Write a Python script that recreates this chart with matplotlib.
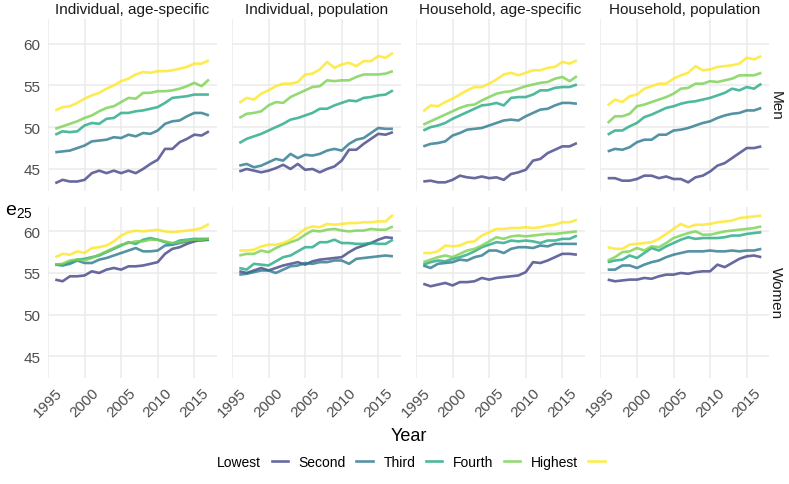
import matplotlib
matplotlib.use("Agg")
import matplotlib.pyplot as plt
from matplotlib.lines import Line2D
import numpy as np

plt.rcParams['font.family'] = ['Liberation Sans', 'DejaVu Sans']

years = list(range(1996, 2018))
groups = ['Lowest', 'Second', 'Third', 'Fourth', 'Highest']
columns = ['Individual, age-specific', 'Individual, population',
           'Household, age-specific', 'Household, population']
rows = ['Men', 'Women']

# men, one list per quintile (lowest -> highest)
men_ind_age = [
    [43.3, 43.7, 43.5, 43.5, 43.7, 44.5, 44.8, 44.5, 44.8, 44.5, 44.8, 44.5, 45.0, 45.6, 46.1, 47.4, 47.4, 48.2, 48.6, 49.1, 49.0, 49.5],
    [47.0, 47.1, 47.2, 47.5, 47.8, 48.3, 48.4, 48.5, 48.8, 48.7, 49.1, 48.9, 49.3, 49.2, 49.6, 50.4, 50.7, 50.8, 51.3, 51.7, 51.7, 51.4],
    [49.1, 49.5, 49.4, 49.5, 50.2, 50.5, 50.4, 51.0, 51.1, 51.7, 51.7, 51.9, 52.0, 52.2, 52.4, 52.9, 53.5, 53.6, 53.7, 53.9, 53.9, 53.9],
    [49.8, 50.1, 50.4, 50.7, 51.1, 51.4, 51.9, 52.3, 52.5, 53.0, 53.5, 53.4, 54.1, 54.1, 54.3, 54.3, 54.4, 54.6, 54.9, 55.3, 54.9, 55.7],
    [52.0, 52.4, 52.5, 52.9, 53.4, 53.8, 54.1, 54.6, 55.0, 55.5, 55.8, 56.3, 56.6, 56.5, 56.7, 56.7, 56.8, 57.0, 57.2, 57.6, 57.6, 58.0],
]
men_ind_pop = [
    [44.7, 45.0, 44.8, 44.6, 44.8, 45.1, 45.5, 45.0, 45.6, 44.9, 45.0, 44.6, 45.0, 45.3, 46.0, 47.3, 47.3, 48.0, 48.6, 49.2, 49.1, 49.4],
    [45.4, 45.6, 45.2, 45.4, 45.8, 46.2, 46.0, 46.8, 46.3, 46.7, 46.6, 46.8, 47.2, 47.4, 47.2, 48.0, 48.5, 48.7, 49.3, 49.9, 49.8, 49.8],
    [48.1, 48.6, 48.9, 49.2, 49.6, 50.0, 50.4, 50.9, 51.1, 51.4, 51.7, 52.2, 52.2, 52.6, 52.9, 53.2, 53.1, 53.5, 53.6, 53.8, 53.9, 54.4],
    [51.1, 51.6, 51.7, 51.9, 52.6, 53.0, 52.9, 53.6, 54.0, 54.4, 54.8, 54.9, 55.6, 55.5, 55.6, 55.6, 56.0, 56.3, 56.3, 56.3, 56.4, 56.7],
    [52.9, 53.5, 53.3, 54.0, 54.4, 54.9, 55.2, 55.2, 55.4, 56.3, 56.4, 56.9, 57.8, 57.1, 57.5, 57.7, 57.3, 57.9, 57.9, 58.5, 58.3, 58.9],
]
men_hh_age = [
    [43.5, 43.6, 43.4, 43.4, 43.7, 44.2, 44.0, 43.9, 44.1, 43.9, 44.0, 43.7, 44.4, 44.6, 44.9, 46.0, 46.2, 46.9, 47.3, 47.7, 47.7, 48.1],
    [47.7, 48.0, 48.1, 48.3, 49.0, 49.3, 49.7, 49.8, 49.9, 50.2, 50.5, 50.8, 50.9, 50.8, 51.3, 51.7, 52.1, 52.2, 52.6, 52.9, 52.9, 52.8],
    [49.6, 50.0, 50.2, 50.5, 51.0, 51.4, 51.8, 52.2, 52.6, 52.7, 52.9, 52.6, 53.5, 53.6, 53.6, 53.9, 54.4, 54.4, 54.7, 54.8, 54.8, 55.1],
    [50.3, 50.7, 51.1, 51.5, 51.9, 52.3, 52.6, 52.7, 53.2, 53.6, 54.0, 54.2, 54.3, 54.6, 54.9, 55.1, 55.3, 55.4, 55.8, 56.0, 55.5, 56.1],
    [51.9, 52.6, 52.5, 53.0, 53.4, 53.9, 54.4, 54.8, 54.8, 55.2, 55.7, 56.3, 56.5, 56.2, 56.5, 56.8, 56.8, 57.1, 57.2, 57.8, 57.6, 58.0],
]
men_hh_pop = [
    [43.9, 43.9, 43.6, 43.6, 43.8, 44.2, 44.2, 43.9, 44.1, 43.8, 43.8, 43.4, 44.0, 44.2, 44.7, 45.4, 45.7, 46.3, 46.9, 47.5, 47.5, 47.7],
    [47.1, 47.4, 47.3, 47.6, 48.2, 48.5, 48.5, 49.1, 49.1, 49.6, 49.7, 49.9, 50.2, 50.5, 50.7, 51.1, 51.4, 51.6, 51.7, 52.0, 52.0, 52.3],
    [49.1, 49.6, 49.6, 50.1, 50.5, 51.2, 51.5, 51.9, 52.3, 52.5, 52.8, 53.0, 53.1, 53.3, 53.5, 53.8, 54.1, 54.6, 54.4, 54.8, 54.6, 55.2],
    [50.5, 51.3, 51.3, 51.6, 52.5, 52.7, 53.0, 53.3, 53.6, 54.0, 54.6, 54.7, 55.2, 55.2, 55.5, 55.4, 55.6, 55.8, 56.2, 56.2, 56.2, 56.5],
    [52.6, 53.3, 53.0, 53.7, 53.9, 54.6, 54.9, 55.2, 55.2, 55.8, 56.2, 56.5, 57.3, 56.8, 56.9, 57.2, 57.3, 57.4, 57.6, 58.3, 58.1, 58.5],
]

# women
women_ind_age = [
    [54.2, 54.0, 54.6, 54.6, 54.7, 55.2, 55.0, 55.4, 55.6, 55.4, 55.8, 55.8, 55.9, 56.1, 56.3, 57.3, 57.9, 58.1, 58.5, 58.8, 59.0, 59.0],
    [56.0, 55.9, 56.1, 56.5, 56.2, 56.2, 56.6, 56.8, 57.1, 57.4, 57.7, 58.0, 57.6, 57.6, 57.7, 58.3, 58.4, 58.6, 58.8, 59.0, 58.9, 59.0],
    [56.0, 56.0, 56.3, 56.6, 56.7, 56.9, 57.1, 57.5, 57.9, 58.3, 58.7, 58.5, 59.0, 59.2, 59.0, 58.7, 58.5, 58.9, 59.0, 59.1, 59.1, 59.1],
    [56.0, 56.1, 56.5, 56.6, 56.5, 56.8, 57.2, 57.6, 58.0, 58.4, 58.6, 58.8, 58.8, 59.0, 59.0, 58.8, 58.6, 58.7, 58.9, 59.0, 59.0, 59.1],
    [56.9, 57.3, 57.2, 57.6, 57.4, 58.0, 58.1, 58.3, 58.8, 59.5, 59.9, 60.1, 60.0, 60.1, 60.2, 60.0, 59.9, 60.0, 60.1, 60.2, 60.4, 60.9],
]
women_ind_pop = [
    [55.2, 55.0, 55.3, 55.6, 55.3, 55.6, 55.9, 56.1, 56.3, 56.0, 56.4, 56.6, 56.7, 56.8, 56.9, 57.5, 58.0, 58.3, 58.6, 59.0, 59.3, 59.2],
    [54.8, 54.9, 55.1, 55.3, 55.3, 55.0, 55.4, 55.8, 55.9, 56.2, 56.1, 56.3, 56.3, 56.5, 56.5, 56.1, 56.7, 56.8, 56.9, 57.0, 57.1, 57.0],
    [55.6, 55.4, 56.1, 56.0, 55.9, 56.4, 56.9, 57.1, 57.6, 58.1, 58.1, 58.7, 58.7, 59.0, 58.6, 58.6, 58.5, 58.5, 58.6, 58.5, 58.5, 59.0],
    [57.1, 57.3, 57.3, 57.7, 57.5, 58.0, 58.4, 58.7, 59.0, 59.6, 60.1, 60.0, 60.2, 60.3, 60.1, 60.0, 60.1, 60.1, 60.3, 60.2, 60.2, 60.6],
    [57.7, 57.7, 57.8, 58.2, 58.4, 58.4, 58.6, 59.0, 59.6, 60.3, 60.6, 60.5, 60.9, 60.8, 60.9, 61.0, 61.0, 61.1, 61.1, 61.2, 61.2, 62.0],
]
women_hh_age = [
    [53.7, 53.4, 53.6, 53.8, 53.5, 53.9, 53.9, 54.0, 54.4, 54.2, 54.4, 54.5, 54.6, 54.7, 55.1, 56.3, 56.2, 56.5, 56.9, 57.3, 57.3, 57.2],
    [55.9, 55.6, 56.1, 56.2, 56.3, 56.6, 56.5, 56.9, 57.1, 57.7, 57.7, 57.4, 57.9, 58.1, 58.1, 58.0, 58.3, 58.2, 58.5, 58.5, 58.5, 58.5],
    [56.0, 56.3, 56.5, 56.4, 56.7, 56.9, 57.2, 57.6, 58.1, 58.4, 58.7, 58.6, 58.9, 58.8, 58.9, 58.8, 58.6, 58.9, 58.9, 59.1, 59.1, 59.5],
    [56.3, 56.6, 56.9, 57.1, 56.9, 57.3, 57.7, 57.9, 58.3, 58.8, 59.3, 59.1, 59.4, 59.5, 59.4, 59.5, 59.6, 59.7, 59.7, 59.8, 59.9, 60.0],
    [57.4, 57.4, 57.6, 58.3, 58.2, 58.3, 58.7, 58.8, 59.5, 59.9, 60.3, 60.3, 60.4, 60.4, 60.5, 60.4, 60.5, 60.7, 60.8, 61.1, 61.1, 61.4],
]
women_hh_pop = [
    [54.2, 54.0, 54.1, 54.2, 54.2, 54.4, 54.3, 54.6, 54.8, 54.8, 55.0, 54.9, 55.1, 55.2, 55.2, 56.0, 55.7, 56.2, 56.7, 57.0, 57.1, 56.9],
    [55.4, 55.4, 55.9, 55.9, 55.6, 56.0, 56.3, 56.5, 56.9, 57.2, 57.4, 57.6, 57.6, 57.6, 57.7, 57.6, 57.6, 57.7, 57.6, 57.7, 57.7, 57.9],
    [56.3, 56.5, 56.6, 57.1, 56.8, 57.4, 58.0, 57.7, 58.2, 58.6, 59.0, 59.3, 59.1, 59.2, 59.2, 59.2, 59.3, 59.5, 59.5, 59.7, 59.8, 59.9],
    [56.5, 56.9, 57.5, 57.6, 58.0, 57.7, 58.2, 58.1, 58.6, 59.2, 59.5, 59.8, 60.0, 59.6, 59.6, 59.8, 60.0, 60.1, 60.2, 60.3, 60.4, 60.6],
    [58.1, 57.9, 57.9, 58.4, 58.5, 58.6, 58.7, 59.1, 59.7, 60.3, 60.9, 60.5, 60.8, 60.8, 60.9, 61.1, 61.2, 61.3, 61.6, 61.7, 61.8, 61.9],
]

panels = [[men_ind_age, men_ind_pop, men_hh_age, men_hh_pop],
          [women_ind_age, women_ind_pop, women_hh_age, women_hh_pop]]

colors = plt.cm.viridis(np.linspace(0, 1, 6))[1:]

W, H = 789, 485
fig = plt.figure(figsize=(W / 100, H / 100), dpi=100)

col_left = [47.6, 231.6, 415.6, 600.0]
pw = 169.0
row_top = [20.0, 208.0]
ph = [172.0, 171.0]

allv = np.concatenate([np.ravel(p) for r in panels for p in r])
span = allv.max() - allv.min()
ylo, yhi = allv.min() - 0.05 * span, allv.max() + 0.05 * span
xspan = years[-1] - years[0]
xlo, xhi = years[0] - 0.05 * xspan, years[-1] + 0.05 * xspan

tick_col = '#4D4D4D'
for r in range(2):
    for c in range(4):
        ax = fig.add_axes([col_left[c] / W, 1 - (row_top[r] + ph[r]) / H, pw / W, ph[r] / H])
        for spine in ax.spines.values():
            spine.set_visible(False)
        ax.grid(True, color='#EBEBEB', lw=1.1)
        ax.set_axisbelow(True)
        for g in range(5):
            ax.plot(years, panels[r][c][g], color=colors[g], alpha=0.8, lw=1.9,
                    solid_joinstyle='round', solid_capstyle='butt')
        ax.set_xlim(xlo, xhi)
        ax.set_ylim(ylo, yhi)
        ax.set_xticks([1995, 2000, 2005, 2010, 2015])
        ax.set_yticks([45, 50, 55, 60])
        ax.tick_params(length=0, labelsize=11, colors=tick_col, pad=5)
        if c > 0:
            ax.set_yticklabels([])
        if r == 0:
            ax.set_xticklabels([])
            ax.set_title(columns[c], fontsize=11, color='#1A1A1A', pad=4)
        else:
            for lab in ax.get_xticklabels():
                lab.set_rotation(45)
                lab.set_ha('center')
                lab.set_va('top')
        if c == 3:
            # row strip label on the right
            ax.text(1.0 + 7.0 / pw, 0.5, rows[r], transform=ax.transAxes, rotation=-90,
                    ha='center', va='center', fontsize=11, color='#1A1A1A')

fig.text(408.5 / W, 1 - 437 / H, 'Year', ha='center', va='center', fontsize=13)
fig.text(19 / W, 1 - 212 / H, r'$\mathregular{e_{25}}$', ha='center', va='center', fontsize=14)

handles = [Line2D([], [], color=colors[g], alpha=0.8, lw=1.9) for g in range(5)]
fig.legend(handles, groups, loc='center', bbox_to_anchor=(411 / W, 1 - 463 / H),
           ncol=5, frameon=False, markerfirst=False, fontsize=10,
           handlelength=1.2, handletextpad=0.75, columnspacing=0.75)

fig.savefig('out.png', dpi=100, facecolor='white')
